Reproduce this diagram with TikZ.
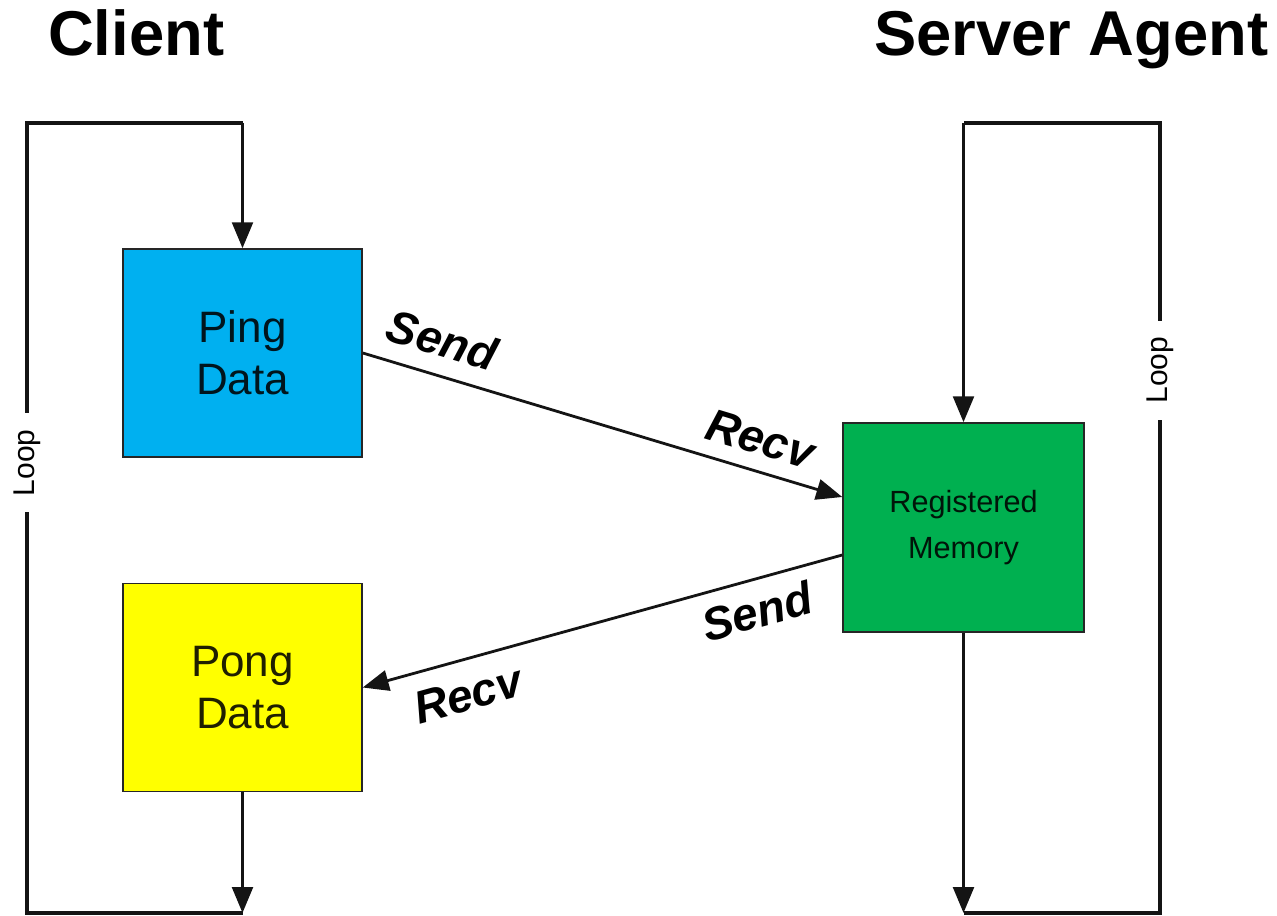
\documentclass[tikz,border=0pt]{standalone}
\usepackage{fontspec}
\setmainfont{Liberation Sans}
\usetikzlibrary{arrows.meta,calc}
\definecolor{pingblue}{RGB}{0,176,240}
\definecolor{pongyellow}{RGB}{255,255,0}
\definecolor{memgreen}{RGB}{0,176,80}
\begin{document}
\begin{tikzpicture}[x=0.75pt,y=-0.75pt,
  title/.style={inner sep=0pt, font=\fontsize{47.5}{50}\selectfont\bfseries},
  box/.style={draw=black!85, line width=1.1pt, inner sep=0pt, align=center,
    minimum width=179.25pt, minimum height=156pt, text opacity=0.88,
    font=\fontsize{33}{39}\selectfont},
  wire/.style={line width=2.6pt, draw=black!92},
  flow/.style={line width=2.1pt, draw=black!92},
  tip/.style={-{Triangle[length=19.5pt,width=15.5pt]}},
  msg/.style={sloped, inner sep=3pt, font=\fontsize{34.5}{38}\selectfont\bfseries\itshape},
  looplabel/.style={fill=white, inner xsep=12pt, inner ysep=1pt,
    font=\fontsize{22.5}{26}\selectfont}]
\useasboundingbox (0,0) rectangle (1277,916);

% headings
\node[title, anchor=base west] (client) at (48,56) {Client};
\node[title, anchor=base west] (server) at (874,56) {Server Agent};

% data blocks
\node[box, fill=pingblue] (ping) at (242.5,353) {Ping\\Data};
\node[box, fill=pongyellow] (pong) at (242.5,687.5) {Pong\\Data};
\node[box, fill=memgreen, minimum width=180.75pt, minimum height=156.75pt,
  font=\fontsize{23}{34.5}\selectfont] (mem) at (963.5,527.5) {Registered\\Memory};

% corners of the two loops
\coordinate (cl-tl) at (27,123);
\coordinate (cl-tr) at (242.5,123);
\coordinate (cl-bl) at (27,913);
\coordinate (cl-br) at (242.5,913);
\coordinate (cr-tl) at (963.5,123);
\coordinate (cr-tr) at (1160,123);
\coordinate (cr-bl) at (963.5,913);
\coordinate (cr-br) at (1160,913);

% client loop
\draw[wire, tip] (pong.south) -- (cl-br);
\draw[wire] (cl-br) -- (cl-bl)
  -- node[looplabel, pos=0.57, rotate=90] (loopc) {Loop} (cl-tl) -- (cl-tr);
\draw[wire, tip] (cl-tr) -- (ping.north);

% server loop
\draw[wire, tip] (mem.south) -- (cr-bl);
\draw[wire] (cr-bl) -- (cr-br)
  -- node[looplabel, pos=0.687, rotate=90] (loops) {Loop} (cr-tr) -- (cr-tl);
\draw[wire, tip] (cr-tl) -- (mem.north);

% ping and pong transfers
\coordinate (mem-in) at ($(mem.west)+(0,-30.5)$);
\coordinate (mem-out) at ($(mem.west)+(0,27.5)$);
\draw[flow, tip] (ping.east) --
  node[msg, pos=0.145, above=10pt] (s1) {Send}
  node[msg, pos=0.81, above=8pt] (r1) {Recv} (mem-in);
\draw[flow, tip] (mem-out) --
  node[msg, pos=0.195, below=7pt] (s2) {Send}
  node[msg, pos=0.8, below=10pt] (r2) {Recv} (pong.east);
\end{tikzpicture}
\end{document}
